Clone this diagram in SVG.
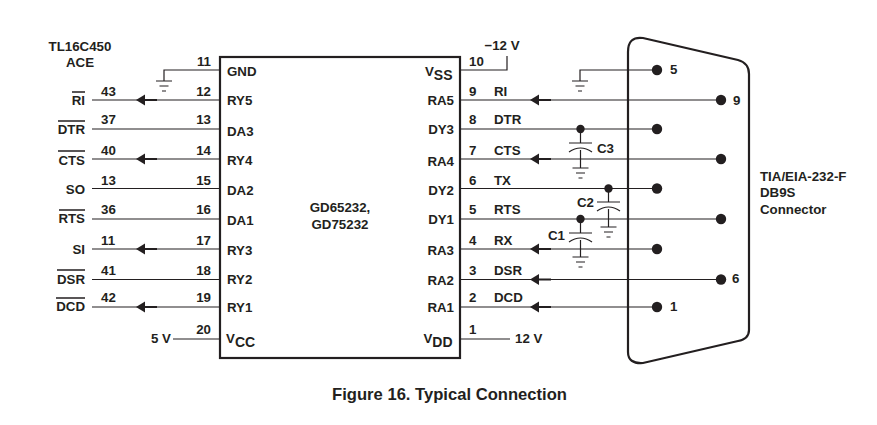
<svg xmlns="http://www.w3.org/2000/svg" width="877" height="425" viewBox="0 0 877 425">
<style>
text{font-family:"Liberation Sans",Arial,sans-serif;font-weight:700;font-size:13.300px;fill:#231f20}
.e{text-anchor:end}.m{text-anchor:middle}
.s{font-size:14px}
.w{fill:none;stroke:#231f20;stroke-width:1.2}
.ov{fill:none;stroke:#231f20;stroke-width:1.5}
.b{fill:none;stroke:#231f20;stroke-width:2.2}
.a{fill:#231f20}
</style>
<defs>
<g id="arr"><path class="a" d="M0 0L9-5.500V5.500Z"/><path d="M8 0H21" stroke="#231f20" stroke-width="2"/></g>
<g id="gnd"><path class="w" d="M-8 0H8M-4.500 5H4.500M-2 10H2"/></g>
<g id="cap"><path class="w" d="M-11.500 0H11.500M-11.500 9Q0 1 11.500 9"/></g>
<circle id="dot" r="5.200" class="a"/>
<circle id="jn" r="4.200" class="a"/>
</defs>
<g id="connectors">
<path class="w" d="M220 70H164V81M92 100H220M92 129H220M92 159H220M92 188.500H220M92 219H220M92 249H220M92 279.500H220M92 307H220M173 339H220"/>
<path class="w" d="M460 70H507V56M460 100H721M460 129H657M460 159H721M460 188.500H657M460 219H721M460 249H657M460 279.500H721M460 307H657M460 339H510"/>
<path class="w" d="M657 70H580V81M580.500 129V143M580.500 150V168M608.500 188.500V202M608.500 209V227M580.500 219V233M580.500 240V257"/>
<use href="#arr" x="136" y="100"/><use href="#arr" x="136" y="159"/><use href="#arr" x="136" y="249"/><use href="#arr" x="136" y="307"/>
<use href="#arr" x="530" y="100"/><use href="#arr" x="530" y="159"/><use href="#arr" x="530" y="249"/><use href="#arr" x="530" y="279.500"/><use href="#arr" x="530" y="307"/>
<use href="#gnd" x="164" y="81"/><use href="#gnd" x="580" y="81"/>
<use href="#jn" x="580.500" y="129"/><use href="#jn" x="608.500" y="188.500"/><use href="#jn" x="580.500" y="219"/>
</g>
<g id="chip">
<rect x="220" y="57" width="240" height="301" class="b"/>
<text x="227" y="76">GND</text><text x="227" y="105">RY5</text><text x="227" y="136">DA3</text><text x="227" y="165">RY4</text><text x="227" y="195">DA2</text><text x="227" y="225">DA1</text><text x="227" y="255">RY3</text><text x="227" y="284">RY2</text><text x="227" y="312">RY1</text>
<text x="226" y="343">V<tspan class="s" dy="4">CC</tspan></text>
<text class="e" x="452.500" y="76">V<tspan class="s" dy="4">SS</tspan></text>
<text class="e" x="454" y="105">RA5</text><text class="e" x="454" y="134">DY3</text><text class="e" x="454" y="166">RA4</text><text class="e" x="454" y="195">DY2</text><text class="e" x="454" y="224">DY1</text><text class="e" x="454" y="255">RA3</text><text class="e" x="454" y="285">RA2</text><text class="e" x="454" y="312">RA1</text>
<text class="e" x="452.500" y="343">V<tspan class="s" dy="4">DD</tspan></text>
<text class="m" x="340" y="212">GD65232,</text><text class="m" x="340" y="229">GD75232</text>
</g>
<g id="pins-left">
<text class="e" x="211" y="66">11</text><text class="e" x="211" y="96">12</text><text class="e" x="211" y="124">13</text><text class="e" x="211" y="155">14</text><text class="e" x="211" y="185">15</text><text class="e" x="211" y="214">16</text><text class="e" x="211" y="245">17</text><text class="e" x="211" y="275">18</text><text class="e" x="211" y="302">19</text><text class="e" x="211" y="334">20</text>
<text x="101" y="96">43</text><text x="101" y="124">37</text><text x="101" y="155">40</text><text x="101" y="185">13</text><text x="101" y="214">36</text><text x="101" y="245">11</text><text x="101" y="275">41</text><text x="101" y="302">42</text>
</g>
<g id="signals-left">
<text class="m" x="80" y="51">TL16C450</text><text class="m" x="80" y="67">ACE</text>
<text class="e" x="85" y="105">RI</text><text class="e" x="85" y="134">DTR</text><text class="e" x="85" y="165">CTS</text><text class="e" x="85" y="194">SO</text><text class="e" x="85" y="223">RTS</text><text class="e" x="85" y="254">SI</text><text class="e" x="85" y="284">DSR</text><text class="e" x="85" y="311">DCD</text>
<text class="e" x="171" y="343">5 V</text>
<path class="ov" d="M72 92H85M58 121H85M58 151H85M59 210H85M57 270H85M56 298H85"/>
</g>
<g id="pins-right">
<text x="469" y="66">10</text><text x="469" y="96">9</text><text x="469" y="124">8</text><text x="469" y="155">7</text><text x="469" y="185">6</text><text x="469" y="214">5</text><text x="469" y="245">4</text><text x="469" y="275">3</text><text x="469" y="302">2</text><text x="469" y="334">1</text>
<text x="494" y="96">RI</text><text x="494" y="124">DTR</text><text x="494" y="155">CTS</text><text x="494" y="185">TX</text><text x="494" y="214">RTS</text><text x="494" y="245">RX</text><text x="494" y="275">DSR</text><text x="494" y="302">DCD</text>
<text class="m" x="502" y="50">−12 V</text><text x="515" y="343">12 V</text>
</g>
<g id="caps">
<use href="#cap" x="580.500" y="143"/><use href="#gnd" x="580.500" y="168"/><text x="597" y="153">C3</text>
<use href="#cap" x="608.500" y="202"/><use href="#gnd" x="608.500" y="227"/><text x="577" y="207">C2</text>
<use href="#cap" x="580.500" y="233"/><use href="#gnd" x="580.500" y="257"/><text x="548" y="240">C1</text>
</g>
<g id="connector-db9s">
<path class="b" d="M628 52Q628 36 643 38L738 60Q749 63 749 74V330Q749 339 738 341L643 363Q628 364 628 352Z"/>
<use href="#dot" x="657" y="70"/><use href="#dot" x="721" y="100"/><use href="#dot" x="657" y="129"/><use href="#dot" x="721" y="159"/><use href="#dot" x="657" y="188.500"/><use href="#dot" x="721" y="219"/><use href="#dot" x="657" y="249"/><use href="#dot" x="721" y="279.500"/><use href="#dot" x="657" y="307"/>
<text x="670" y="74">5</text><text x="733" y="105">9</text><text x="732" y="283">6</text><text x="670" y="311">1</text>
<text x="760" y="181">TIA/EIA-232-F</text><text x="760" y="197">DB9S</text><text x="760" y="214">Connector</text>
</g>
<text id="caption" class="m" x="449.500" y="400" style="font-size:16.600px">Figure 16. Typical Connection</text>
</svg>
